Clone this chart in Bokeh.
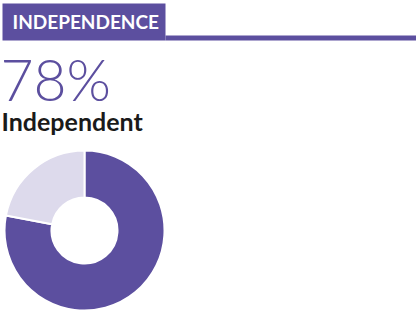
import math
from bokeh.plotting import figure
from bokeh.models import Range1d, Label, ColumnDataSource
from bokeh.embed import file_html
from bokeh.resources import INLINE

# ---- data ----
title = "INDEPENDENCE"
headline_value = 78
headline_label = "Independent"
categories = ["Independent", "Not independent"]
shares = [78, 22]
colors = ["#5c4f9f", "#dddaec"]

PURPLE = "#5c4f9f"
W, H = 416, 310

p = figure(width=W, height=H, x_range=Range1d(0, W), y_range=Range1d(0, H),
           output_backend="svg", toolbar_location=None, min_border=0,
           outline_line_color=None, background_fill_color="white",
           border_fill_color="white")
p.axis.visible = False
p.grid.visible = False

def py(v):
    return H - v

# header box and rule
p.quad(left=[2], right=[165], top=[py(3)], bottom=[py(40)], color=PURPLE, line_color=None)
p.quad(left=[165], right=[W], top=[py(35)], bottom=[py(40)], color=PURPLE, line_color=None)

p.add_layout(Label(x=12, y=py(21), text=title, text_color="white",
                   text_font="Lato", text_font_style="bold",
                   text_font_size="19px", text_baseline="alphabetic"))
p.add_layout(Label(x=0, y=py(78), text=f"{headline_value}%", text_color=PURPLE,
                   text_font="Lato Light", text_font_size="57px",
                   text_baseline="alphabetic"))
p.add_layout(Label(x=1, y=py(120), text=headline_label, text_color="#1a1a1a",
                   text_font="Lato", text_font_style="bold",
                   text_font_size="25px", text_baseline="alphabetic"))

# donut
total = sum(shares)
starts, ends = [], []
cum = 0
for s in shares:
    starts.append(math.radians(90 - cum / total * 360))
    cum += s
    ends.append(math.radians(90 - cum / total * 360))
src = ColumnDataSource(dict(cat=categories, start=starts, end=ends, color=colors))
p.annular_wedge(x=84, y=py(230), inner_radius=33, outer_radius=80,
                start_angle="start", end_angle="end", direction="clock",
                fill_color="color", line_color="white", line_width=2, source=src)

html = file_html(p, INLINE)
html = html.replace("</head>", "<style>html,body{margin:0;padding:0;overflow:hidden}</style></head>", 1)
open("out.html", "w").write(html)
